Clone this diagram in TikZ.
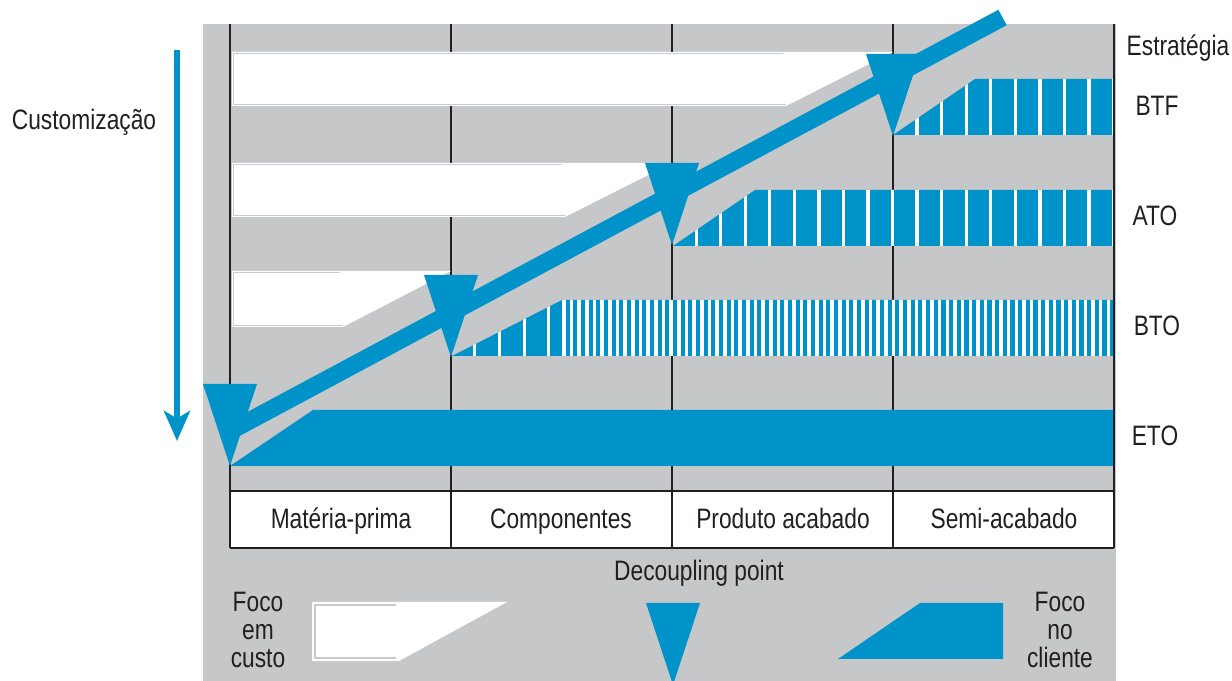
\documentclass[tikz,border=0pt]{standalone}
\usepackage{fontspec}
\setmainfont{Liberation Sans}[FakeStretch=0.81]
\usetikzlibrary{arrows.meta}
\definecolor{dpblue}{RGB}{0,147,201}
\definecolor{bggray}{RGB}{198,199,201}
\definecolor{inkblack}{RGB}{35,31,32}
\definecolor{rimgray}{RGB}{200,203,210}

\begin{document}
\begin{tikzpicture}[x=0.2mm,y=-0.2mm,
  lbl/.style={inner sep=0pt,anchor=base,text=inkblack,font=\fontsize{16}{15.9}\selectfont},
  rim/.style={rimgray,line width=0.6pt},
  grid/.style={inkblack,line width=1.4pt}]
 \useasboundingbox (0,0) rectangle (1232,681);
 \fill[bggray] (203,24) rectangle (1116,681);
 \fill[white] (230,491) rectangle (1114,548);
 \foreach \x in {230,451,672,893}
   \draw[grid] (\x,24) -- (\x,548);
 % cost focus (white bars)
 \fill[white] (232,52) -- (893,52) -- (786,106) -- (232,106) -- cycle;
 \draw[rim] (783,53.5) -- (233.5,53.5) -- (233.5,104.5) -- (786,104.5);
 \fill[white] (232,163) -- (672,163) -- (565,217) -- (232,217) -- cycle;
 \draw[rim] (562,164.5) -- (233.5,164.5) -- (233.5,215.5) -- (565,215.5);
 \fill[white] (232,271) -- (451,271) -- (343,327) -- (232,327) -- cycle;
 \draw[rim] (340,272.5) -- (233.5,272.5) -- (233.5,325.5) -- (343,325.5);
 % customer focus (blue bars)
 \fill[dpblue] (230,466) -- (313,410) -- (1113,410) -- (1113,466) -- cycle;
 \begin{scope}
  \clip (452,356) -- (562,300) -- (1113,300) -- (1113,356) -- cycle;
  \fill[dpblue] (440,290) rectangle (1120,360);
  \foreach \x in {473,498,523,547}
    \fill[white] (\x,290) rectangle +(2.7,70);
  \foreach \k in {0,...,71}
    \fill[white] ({562+7.67*\k},290) rectangle +(3.5,70);
 \end{scope}
 \begin{scope}
  \clip (673,246) -- (755,190) -- (1113,190) -- (1113,246) -- cycle;
  \fill[dpblue] (660,180) rectangle (1120,250);
  \foreach \k in {0,...,17}
    \fill[white] ({694.5+24.55*\k},180) rectangle +(3.3,70);
 \end{scope}
 \begin{scope}
  \clip (893,135) -- (975,79) -- (1113,79) -- (1113,135) -- cycle;
  \fill[dpblue] (880,70) rectangle (1120,140);
  \foreach \k in {9,...,17}
    \fill[white] ({694.5+24.55*\k},70) rectangle +(3.3,70);
 \end{scope}
 % decoupling points
 \draw[dpblue,line width=0.35cm] (1002.5,17.5) -- (236,428);
 \foreach \x/\t in {893/54,672/163,451/275,230/384}
   \fill[dpblue] (\x-27,\t) -- (\x+27,\t) -- (\x,\t+82) -- cycle;
 \draw[grid] (230,491) -- (1114,491);
 \draw[grid] (230,548) -- (1114,548);
 \draw[grid] (1114,24) -- (1114,548);
 \node[lbl] (estr) at (1178,56) {Estratégia};
 \node[lbl] (btf) at (1157,116) {BTF};
 \node[lbl] (ato) at (1155,226) {ATO};
 \node[lbl] (bto) at (1157,336) {BTO};
 \node[lbl] (eto) at (1155,446) {ETO};
 \node[lbl] (mp) at (341,529) {Matéria-prima};
 \node[lbl] (comp) at (561,529) {Componentes};
 \node[lbl] (pa) at (783,529) {Produto acabado};
 \node[lbl] (sa) at (1004,529) {Semi-acabado};
 \node[lbl] (dp) at (699,581) {Decoupling point};
 % legend
 \node[lbl,anchor=center,align=center] (fcusto) at (258,630) {Foco\\em\\custo};
 \fill[white] (312,602) -- (507,602) -- (399,661) -- (312,661) -- cycle;
 \draw[rim] (396,605) -- (315,605) -- (315,658) -- (396,658);
 \fill[dpblue] (646,603) -- (700,603) -- (673,685) -- cycle;
 \fill[dpblue] (920,603) -- (1003,603) -- (1003,659) -- (838,659) -- cycle;
 \node[lbl,anchor=center,align=center] (fcli) at (1060,630) {Foco\\no\\cliente};
 % customization axis
 \node[lbl] (cust) at (84,130) {Customização};
 \coordinate (ctop) at (177,50);
 \coordinate (cbot) at (177,441);
 \draw[dpblue,line width=0.12cm,-{Stealth[length=0.6cm,width=0.52cm,inset=0.15cm]}] (ctop) -- (cbot);
\end{tikzpicture}
\end{document}
